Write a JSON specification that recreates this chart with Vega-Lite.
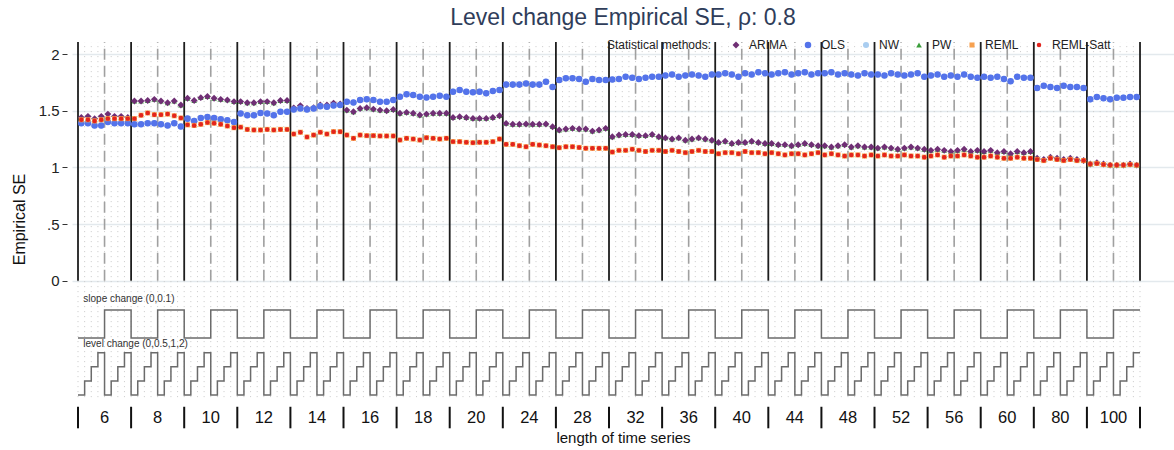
{
"$schema": "https://vega.github.io/schema/vega-lite/v6.json",
"width": 1102, "height": 388,
"autosize": {"type": "none"},
"padding": {"left": 72, "top": 42, "right": 0, "bottom": 20},
"background": "white",
"title": {"text": "Level change Empirical SE, ρ: 0.8", "fontSize": 23, "fontWeight": "normal", "color": "#2f3d5a", "font": "Liberation Sans", "anchor": "middle", "offset": 9},
"datasets": {
"main": [
{"x":1,"ARIMA":1.44,"PW":1.43,"OLS":1.39,"NW":1.39,"REML":1.42,"REML-Satt":1.42},
{"x":2,"ARIMA":1.45,"PW":1.43,"OLS":1.39,"NW":1.39,"REML":1.42,"REML-Satt":1.42},
{"x":3,"ARIMA":1.43,"PW":1.42,"OLS":1.37,"NW":1.37,"REML":1.41,"REML-Satt":1.41},
{"x":4,"ARIMA":1.45,"PW":1.43,"OLS":1.37,"NW":1.37,"REML":1.42,"REML-Satt":1.42},
{"x":5,"ARIMA":1.47,"PW":1.45,"OLS":1.40,"NW":1.40,"REML":1.43,"REML-Satt":1.43},
{"x":6,"ARIMA":1.45,"PW":1.44,"OLS":1.39,"NW":1.39,"REML":1.43,"REML-Satt":1.43},
{"x":7,"ARIMA":1.45,"PW":1.44,"OLS":1.39,"NW":1.39,"REML":1.43,"REML-Satt":1.43},
{"x":8,"ARIMA":1.44,"PW":1.43,"OLS":1.39,"NW":1.39,"REML":1.43,"REML-Satt":1.43},
{"x":9,"ARIMA":1.585,"PW":1.585,"OLS":1.38,"NW":1.38,"REML":1.43,"REML-Satt":1.43},
{"x":10,"ARIMA":1.585,"PW":1.585,"OLS":1.38,"NW":1.38,"REML":1.46,"REML-Satt":1.46},
{"x":11,"ARIMA":1.59,"PW":1.59,"OLS":1.39,"NW":1.39,"REML":1.48,"REML-Satt":1.48},
{"x":12,"ARIMA":1.60,"PW":1.60,"OLS":1.39,"NW":1.39,"REML":1.465,"REML-Satt":1.465},
{"x":13,"ARIMA":1.585,"PW":1.585,"OLS":1.38,"NW":1.38,"REML":1.465,"REML-Satt":1.465},
{"x":14,"ARIMA":1.57,"PW":1.57,"OLS":1.37,"NW":1.37,"REML":1.47,"REML-Satt":1.47},
{"x":15,"ARIMA":1.585,"PW":1.585,"OLS":1.39,"NW":1.39,"REML":1.455,"REML-Satt":1.455},
{"x":16,"ARIMA":1.55,"PW":1.55,"OLS":1.36,"NW":1.36,"REML":1.435,"REML-Satt":1.435},
{"x":17,"ARIMA":1.61,"PW":1.61,"OLS":1.43,"NW":1.43,"REML":1.375,"REML-Satt":1.375},
{"x":18,"ARIMA":1.59,"PW":1.59,"OLS":1.41,"NW":1.41,"REML":1.37,"REML-Satt":1.37},
{"x":19,"ARIMA":1.615,"PW":1.615,"OLS":1.435,"NW":1.435,"REML":1.38,"REML-Satt":1.38},
{"x":20,"ARIMA":1.625,"PW":1.625,"OLS":1.445,"NW":1.445,"REML":1.395,"REML-Satt":1.395},
{"x":21,"ARIMA":1.61,"PW":1.61,"OLS":1.435,"NW":1.435,"REML":1.39,"REML-Satt":1.39},
{"x":22,"ARIMA":1.60,"PW":1.60,"OLS":1.425,"NW":1.425,"REML":1.38,"REML-Satt":1.38},
{"x":23,"ARIMA":1.595,"PW":1.595,"OLS":1.415,"NW":1.415,"REML":1.365,"REML-Satt":1.365},
{"x":24,"ARIMA":1.58,"PW":1.58,"OLS":1.40,"NW":1.40,"REML":1.35,"REML-Satt":1.35},
{"x":25,"ARIMA":1.58,"PW":1.58,"OLS":1.475,"NW":1.475,"REML":1.355,"REML-Satt":1.355},
{"x":26,"ARIMA":1.57,"PW":1.57,"OLS":1.46,"NW":1.46,"REML":1.335,"REML-Satt":1.335},
{"x":27,"ARIMA":1.57,"PW":1.57,"OLS":1.46,"NW":1.46,"REML":1.33,"REML-Satt":1.33},
{"x":28,"ARIMA":1.58,"PW":1.58,"OLS":1.48,"NW":1.48,"REML":1.33,"REML-Satt":1.33},
{"x":29,"ARIMA":1.58,"PW":1.58,"OLS":1.475,"NW":1.475,"REML":1.335,"REML-Satt":1.335},
{"x":30,"ARIMA":1.57,"PW":1.57,"OLS":1.46,"NW":1.46,"REML":1.33,"REML-Satt":1.33},
{"x":31,"ARIMA":1.59,"PW":1.59,"OLS":1.49,"NW":1.49,"REML":1.335,"REML-Satt":1.335},
{"x":32,"ARIMA":1.59,"PW":1.59,"OLS":1.49,"NW":1.49,"REML":1.335,"REML-Satt":1.335},
{"x":33,"ARIMA":1.525,"PW":1.525,"OLS":1.51,"NW":1.51,"REML":1.294,"REML-Satt":1.294},
{"x":34,"ARIMA":1.545,"PW":1.545,"OLS":1.52,"NW":1.52,"REML":1.31,"REML-Satt":1.31},
{"x":35,"ARIMA":1.52,"PW":1.52,"OLS":1.51,"NW":1.51,"REML":1.268,"REML-Satt":1.268},
{"x":36,"ARIMA":1.527,"PW":1.527,"OLS":1.52,"NW":1.52,"REML":1.285,"REML-Satt":1.285},
{"x":37,"ARIMA":1.55,"PW":1.55,"OLS":1.54,"NW":1.54,"REML":1.31,"REML-Satt":1.31},
{"x":38,"ARIMA":1.55,"PW":1.55,"OLS":1.535,"NW":1.535,"REML":1.294,"REML-Satt":1.294},
{"x":39,"ARIMA":1.567,"PW":1.567,"OLS":1.545,"NW":1.545,"REML":1.315,"REML-Satt":1.315},
{"x":40,"ARIMA":1.56,"PW":1.56,"OLS":1.55,"NW":1.55,"REML":1.315,"REML-Satt":1.315},
{"x":41,"ARIMA":1.505,"PW":1.505,"OLS":1.579,"NW":1.579,"REML":1.285,"REML-Satt":1.285},
{"x":42,"ARIMA":1.49,"PW":1.49,"OLS":1.573,"NW":1.573,"REML":1.256,"REML-Satt":1.256},
{"x":43,"ARIMA":1.52,"PW":1.52,"OLS":1.594,"NW":1.594,"REML":1.285,"REML-Satt":1.285},
{"x":44,"ARIMA":1.526,"PW":1.526,"OLS":1.60,"NW":1.60,"REML":1.28,"REML-Satt":1.28},
{"x":45,"ARIMA":1.514,"PW":1.514,"OLS":1.594,"NW":1.594,"REML":1.28,"REML-Satt":1.28},
{"x":46,"ARIMA":1.505,"PW":1.505,"OLS":1.579,"NW":1.579,"REML":1.277,"REML-Satt":1.277},
{"x":47,"ARIMA":1.50,"PW":1.50,"OLS":1.579,"NW":1.579,"REML":1.277,"REML-Satt":1.277},
{"x":48,"ARIMA":1.51,"PW":1.51,"OLS":1.594,"NW":1.594,"REML":1.277,"REML-Satt":1.277},
{"x":49,"ARIMA":1.477,"PW":1.477,"OLS":1.623,"NW":1.623,"REML":1.241,"REML-Satt":1.241},
{"x":50,"ARIMA":1.485,"PW":1.485,"OLS":1.644,"NW":1.644,"REML":1.256,"REML-Satt":1.256},
{"x":51,"ARIMA":1.477,"PW":1.477,"OLS":1.638,"NW":1.638,"REML":1.25,"REML-Satt":1.25},
{"x":52,"ARIMA":1.462,"PW":1.462,"OLS":1.623,"NW":1.623,"REML":1.241,"REML-Satt":1.241},
{"x":53,"ARIMA":1.47,"PW":1.47,"OLS":1.617,"NW":1.617,"REML":1.262,"REML-Satt":1.262},
{"x":54,"ARIMA":1.477,"PW":1.477,"OLS":1.623,"NW":1.623,"REML":1.256,"REML-Satt":1.256},
{"x":55,"ARIMA":1.477,"PW":1.477,"OLS":1.632,"NW":1.632,"REML":1.25,"REML-Satt":1.25},
{"x":56,"ARIMA":1.477,"PW":1.477,"OLS":1.623,"NW":1.623,"REML":1.256,"REML-Satt":1.256},
{"x":57,"ARIMA":1.44,"PW":1.44,"OLS":1.668,"NW":1.668,"REML":1.227,"REML-Satt":1.227},
{"x":58,"ARIMA":1.447,"PW":1.447,"OLS":1.683,"NW":1.683,"REML":1.227,"REML-Satt":1.227},
{"x":59,"ARIMA":1.44,"PW":1.44,"OLS":1.668,"NW":1.668,"REML":1.221,"REML-Satt":1.221},
{"x":60,"ARIMA":1.432,"PW":1.432,"OLS":1.662,"NW":1.662,"REML":1.218,"REML-Satt":1.218},
{"x":61,"ARIMA":1.432,"PW":1.432,"OLS":1.668,"NW":1.668,"REML":1.221,"REML-Satt":1.221},
{"x":62,"ARIMA":1.432,"PW":1.432,"OLS":1.653,"NW":1.653,"REML":1.221,"REML-Satt":1.221},
{"x":63,"ARIMA":1.44,"PW":1.44,"OLS":1.674,"NW":1.674,"REML":1.227,"REML-Satt":1.227},
{"x":64,"ARIMA":1.456,"PW":1.456,"OLS":1.683,"NW":1.683,"REML":1.25,"REML-Satt":1.25},
{"x":65,"ARIMA":1.388,"PW":1.388,"OLS":1.73,"NW":1.73,"REML":1.203,"REML-Satt":1.203},
{"x":66,"ARIMA":1.38,"PW":1.38,"OLS":1.73,"NW":1.73,"REML":1.203,"REML-Satt":1.203},
{"x":67,"ARIMA":1.38,"PW":1.38,"OLS":1.73,"NW":1.73,"REML":1.191,"REML-Satt":1.191},
{"x":68,"ARIMA":1.383,"PW":1.383,"OLS":1.74,"NW":1.74,"REML":1.182,"REML-Satt":1.182},
{"x":69,"ARIMA":1.38,"PW":1.38,"OLS":1.73,"NW":1.73,"REML":1.203,"REML-Satt":1.203},
{"x":70,"ARIMA":1.38,"PW":1.38,"OLS":1.73,"NW":1.73,"REML":1.197,"REML-Satt":1.197},
{"x":71,"ARIMA":1.383,"PW":1.383,"OLS":1.756,"NW":1.756,"REML":1.191,"REML-Satt":1.191},
{"x":72,"ARIMA":1.359,"PW":1.359,"OLS":1.71,"NW":1.71,"REML":1.182,"REML-Satt":1.182},
{"x":73,"ARIMA":1.329,"PW":1.329,"OLS":1.771,"NW":1.771,"REML":1.174,"REML-Satt":1.174},
{"x":74,"ARIMA":1.338,"PW":1.338,"OLS":1.786,"NW":1.786,"REML":1.182,"REML-Satt":1.182},
{"x":75,"ARIMA":1.344,"PW":1.344,"OLS":1.786,"NW":1.786,"REML":1.182,"REML-Satt":1.182},
{"x":76,"ARIMA":1.338,"PW":1.338,"OLS":1.78,"NW":1.78,"REML":1.176,"REML-Satt":1.176},
{"x":77,"ARIMA":1.338,"PW":1.338,"OLS":1.756,"NW":1.756,"REML":1.168,"REML-Satt":1.168},
{"x":78,"ARIMA":1.32,"PW":1.32,"OLS":1.78,"NW":1.78,"REML":1.168,"REML-Satt":1.168},
{"x":79,"ARIMA":1.329,"PW":1.329,"OLS":1.771,"NW":1.771,"REML":1.168,"REML-Satt":1.168},
{"x":80,"ARIMA":1.344,"PW":1.344,"OLS":1.771,"NW":1.771,"REML":1.168,"REML-Satt":1.168},
{"x":81,"ARIMA":1.27,"PW":1.27,"OLS":1.775,"NW":1.775,"REML":1.135,"REML-Satt":1.135},
{"x":82,"ARIMA":1.285,"PW":1.285,"OLS":1.78,"NW":1.78,"REML":1.15,"REML-Satt":1.15},
{"x":83,"ARIMA":1.29,"PW":1.29,"OLS":1.80,"NW":1.80,"REML":1.15,"REML-Satt":1.15},
{"x":84,"ARIMA":1.29,"PW":1.29,"OLS":1.79,"NW":1.79,"REML":1.16,"REML-Satt":1.16},
{"x":85,"ARIMA":1.28,"PW":1.28,"OLS":1.78,"NW":1.78,"REML":1.15,"REML-Satt":1.15},
{"x":86,"ARIMA":1.28,"PW":1.28,"OLS":1.79,"NW":1.79,"REML":1.14,"REML-Satt":1.14},
{"x":87,"ARIMA":1.29,"PW":1.29,"OLS":1.80,"NW":1.80,"REML":1.15,"REML-Satt":1.15},
{"x":88,"ARIMA":1.27,"PW":1.27,"OLS":1.80,"NW":1.80,"REML":1.15,"REML-Satt":1.15},
{"x":89,"ARIMA":1.26,"PW":1.26,"OLS":1.81,"NW":1.81,"REML":1.14,"REML-Satt":1.14},
{"x":90,"ARIMA":1.25,"PW":1.25,"OLS":1.82,"NW":1.82,"REML":1.15,"REML-Satt":1.15},
{"x":91,"ARIMA":1.26,"PW":1.26,"OLS":1.80,"NW":1.80,"REML":1.14,"REML-Satt":1.14},
{"x":92,"ARIMA":1.24,"PW":1.24,"OLS":1.81,"NW":1.81,"REML":1.13,"REML-Satt":1.13},
{"x":93,"ARIMA":1.25,"PW":1.25,"OLS":1.82,"NW":1.82,"REML":1.14,"REML-Satt":1.14},
{"x":94,"ARIMA":1.26,"PW":1.26,"OLS":1.81,"NW":1.81,"REML":1.15,"REML-Satt":1.15},
{"x":95,"ARIMA":1.25,"PW":1.25,"OLS":1.80,"NW":1.80,"REML":1.14,"REML-Satt":1.14},
{"x":96,"ARIMA":1.24,"PW":1.24,"OLS":1.82,"NW":1.82,"REML":1.14,"REML-Satt":1.14},
{"x":97,"ARIMA":1.22,"PW":1.22,"OLS":1.82,"NW":1.82,"REML":1.12,"REML-Satt":1.12},
{"x":98,"ARIMA":1.23,"PW":1.23,"OLS":1.83,"NW":1.83,"REML":1.13,"REML-Satt":1.13},
{"x":99,"ARIMA":1.21,"PW":1.21,"OLS":1.82,"NW":1.82,"REML":1.13,"REML-Satt":1.13},
{"x":100,"ARIMA":1.22,"PW":1.22,"OLS":1.80,"NW":1.80,"REML":1.12,"REML-Satt":1.12},
{"x":101,"ARIMA":1.22,"PW":1.22,"OLS":1.83,"NW":1.83,"REML":1.14,"REML-Satt":1.14},
{"x":102,"ARIMA":1.23,"PW":1.23,"OLS":1.82,"NW":1.82,"REML":1.13,"REML-Satt":1.13},
{"x":103,"ARIMA":1.22,"PW":1.22,"OLS":1.84,"NW":1.84,"REML":1.13,"REML-Satt":1.13},
{"x":104,"ARIMA":1.21,"PW":1.21,"OLS":1.83,"NW":1.83,"REML":1.12,"REML-Satt":1.12},
{"x":105,"ARIMA":1.21,"PW":1.21,"OLS":1.82,"NW":1.82,"REML":1.13,"REML-Satt":1.13},
{"x":106,"ARIMA":1.20,"PW":1.20,"OLS":1.83,"NW":1.83,"REML":1.12,"REML-Satt":1.12},
{"x":107,"ARIMA":1.20,"PW":1.20,"OLS":1.84,"NW":1.84,"REML":1.11,"REML-Satt":1.11},
{"x":108,"ARIMA":1.19,"PW":1.19,"OLS":1.82,"NW":1.82,"REML":1.12,"REML-Satt":1.12},
{"x":109,"ARIMA":1.20,"PW":1.20,"OLS":1.83,"NW":1.83,"REML":1.12,"REML-Satt":1.12},
{"x":110,"ARIMA":1.21,"PW":1.21,"OLS":1.84,"NW":1.84,"REML":1.11,"REML-Satt":1.11},
{"x":111,"ARIMA":1.20,"PW":1.20,"OLS":1.82,"NW":1.82,"REML":1.12,"REML-Satt":1.12},
{"x":112,"ARIMA":1.19,"PW":1.19,"OLS":1.83,"NW":1.83,"REML":1.13,"REML-Satt":1.13},
{"x":113,"ARIMA":1.19,"PW":1.19,"OLS":1.83,"NW":1.83,"REML":1.11,"REML-Satt":1.11},
{"x":114,"ARIMA":1.18,"PW":1.18,"OLS":1.84,"NW":1.84,"REML":1.12,"REML-Satt":1.12},
{"x":115,"ARIMA":1.19,"PW":1.19,"OLS":1.82,"NW":1.82,"REML":1.11,"REML-Satt":1.11},
{"x":116,"ARIMA":1.20,"PW":1.20,"OLS":1.83,"NW":1.83,"REML":1.10,"REML-Satt":1.10},
{"x":117,"ARIMA":1.18,"PW":1.18,"OLS":1.82,"NW":1.82,"REML":1.11,"REML-Satt":1.11},
{"x":118,"ARIMA":1.19,"PW":1.19,"OLS":1.81,"NW":1.81,"REML":1.11,"REML-Satt":1.11},
{"x":119,"ARIMA":1.18,"PW":1.18,"OLS":1.83,"NW":1.83,"REML":1.10,"REML-Satt":1.10},
{"x":120,"ARIMA":1.18,"PW":1.18,"OLS":1.82,"NW":1.82,"REML":1.11,"REML-Satt":1.11},
{"x":121,"ARIMA":1.17,"PW":1.17,"OLS":1.82,"NW":1.82,"REML":1.10,"REML-Satt":1.10},
{"x":122,"ARIMA":1.18,"PW":1.18,"OLS":1.81,"NW":1.81,"REML":1.11,"REML-Satt":1.11},
{"x":123,"ARIMA":1.17,"PW":1.17,"OLS":1.83,"NW":1.83,"REML":1.10,"REML-Satt":1.10},
{"x":124,"ARIMA":1.16,"PW":1.16,"OLS":1.82,"NW":1.82,"REML":1.10,"REML-Satt":1.10},
{"x":125,"ARIMA":1.17,"PW":1.17,"OLS":1.81,"NW":1.81,"REML":1.11,"REML-Satt":1.11},
{"x":126,"ARIMA":1.18,"PW":1.18,"OLS":1.82,"NW":1.82,"REML":1.10,"REML-Satt":1.10},
{"x":127,"ARIMA":1.17,"PW":1.17,"OLS":1.83,"NW":1.83,"REML":1.10,"REML-Satt":1.10},
{"x":128,"ARIMA":1.16,"PW":1.16,"OLS":1.80,"NW":1.80,"REML":1.09,"REML-Satt":1.09},
{"x":129,"ARIMA":1.15,"PW":1.15,"OLS":1.81,"NW":1.81,"REML":1.10,"REML-Satt":1.10},
{"x":130,"ARIMA":1.16,"PW":1.16,"OLS":1.82,"NW":1.82,"REML":1.11,"REML-Satt":1.11},
{"x":131,"ARIMA":1.15,"PW":1.15,"OLS":1.80,"NW":1.80,"REML":1.09,"REML-Satt":1.09},
{"x":132,"ARIMA":1.14,"PW":1.14,"OLS":1.81,"NW":1.81,"REML":1.10,"REML-Satt":1.10},
{"x":133,"ARIMA":1.15,"PW":1.15,"OLS":1.80,"NW":1.80,"REML":1.10,"REML-Satt":1.10},
{"x":134,"ARIMA":1.16,"PW":1.16,"OLS":1.82,"NW":1.82,"REML":1.11,"REML-Satt":1.11},
{"x":135,"ARIMA":1.14,"PW":1.14,"OLS":1.80,"NW":1.80,"REML":1.10,"REML-Satt":1.10},
{"x":136,"ARIMA":1.15,"PW":1.15,"OLS":1.79,"NW":1.79,"REML":1.09,"REML-Satt":1.09},
{"x":137,"ARIMA":1.14,"PW":1.14,"OLS":1.80,"NW":1.80,"REML":1.09,"REML-Satt":1.09},
{"x":138,"ARIMA":1.15,"PW":1.15,"OLS":1.79,"NW":1.79,"REML":1.10,"REML-Satt":1.10},
{"x":139,"ARIMA":1.13,"PW":1.13,"OLS":1.80,"NW":1.80,"REML":1.09,"REML-Satt":1.09},
{"x":140,"ARIMA":1.14,"PW":1.14,"OLS":1.78,"NW":1.78,"REML":1.08,"REML-Satt":1.08},
{"x":141,"ARIMA":1.12,"PW":1.12,"OLS":1.76,"NW":1.76,"REML":1.08,"REML-Satt":1.08},
{"x":142,"ARIMA":1.14,"PW":1.14,"OLS":1.80,"NW":1.80,"REML":1.09,"REML-Satt":1.09},
{"x":143,"ARIMA":1.13,"PW":1.13,"OLS":1.79,"NW":1.79,"REML":1.08,"REML-Satt":1.08},
{"x":144,"ARIMA":1.14,"PW":1.14,"OLS":1.79,"NW":1.79,"REML":1.08,"REML-Satt":1.08},
{"x":145,"ARIMA":1.08,"PW":1.08,"OLS":1.70,"NW":1.70,"REML":1.07,"REML-Satt":1.07},
{"x":146,"ARIMA":1.07,"PW":1.07,"OLS":1.72,"NW":1.72,"REML":1.06,"REML-Satt":1.06},
{"x":147,"ARIMA":1.09,"PW":1.09,"OLS":1.71,"NW":1.71,"REML":1.08,"REML-Satt":1.08},
{"x":148,"ARIMA":1.08,"PW":1.08,"OLS":1.70,"NW":1.70,"REML":1.07,"REML-Satt":1.07},
{"x":149,"ARIMA":1.07,"PW":1.07,"OLS":1.72,"NW":1.72,"REML":1.06,"REML-Satt":1.06},
{"x":150,"ARIMA":1.08,"PW":1.08,"OLS":1.71,"NW":1.71,"REML":1.07,"REML-Satt":1.07},
{"x":151,"ARIMA":1.07,"PW":1.07,"OLS":1.71,"NW":1.71,"REML":1.06,"REML-Satt":1.06},
{"x":152,"ARIMA":1.06,"PW":1.06,"OLS":1.70,"NW":1.70,"REML":1.06,"REML-Satt":1.06},
{"x":153,"ARIMA":1.03,"PW":1.03,"OLS":1.60,"NW":1.60,"REML":1.03,"REML-Satt":1.03},
{"x":154,"ARIMA":1.04,"PW":1.04,"OLS":1.62,"NW":1.62,"REML":1.035,"REML-Satt":1.035},
{"x":155,"ARIMA":1.03,"PW":1.03,"OLS":1.61,"NW":1.61,"REML":1.025,"REML-Satt":1.025},
{"x":156,"ARIMA":1.02,"PW":1.02,"OLS":1.60,"NW":1.60,"REML":1.02,"REML-Satt":1.02},
{"x":157,"ARIMA":1.02,"PW":1.02,"OLS":1.615,"NW":1.615,"REML":1.02,"REML-Satt":1.02},
{"x":158,"ARIMA":1.02,"PW":1.02,"OLS":1.615,"NW":1.615,"REML":1.02,"REML-Satt":1.02},
{"x":159,"ARIMA":1.03,"PW":1.03,"OLS":1.62,"NW":1.62,"REML":1.025,"REML-Satt":1.025},
{"x":160,"ARIMA":1.02,"PW":1.02,"OLS":1.62,"NW":1.62,"REML":1.02,"REML-Satt":1.02}
],
"steps": [
{"x":0.5,"slope":0,"level":0},{"x":1.5,"slope":0,"level":0.5},{"x":2.5,"slope":0,"level":1},{"x":3.5,"slope":0,"level":2},{"x":4.5,"slope":0.1,"level":0},{"x":5.5,"slope":0.1,"level":0.5},{"x":6.5,"slope":0.1,"level":1},{"x":7.5,"slope":0.1,"level":2},
{"x":8.5,"slope":0,"level":0},{"x":9.5,"slope":0,"level":0.5},{"x":10.5,"slope":0,"level":1},{"x":11.5,"slope":0,"level":2},{"x":12.5,"slope":0.1,"level":0},{"x":13.5,"slope":0.1,"level":0.5},{"x":14.5,"slope":0.1,"level":1},{"x":15.5,"slope":0.1,"level":2},
{"x":16.5,"slope":0,"level":0},{"x":17.5,"slope":0,"level":0.5},{"x":18.5,"slope":0,"level":1},{"x":19.5,"slope":0,"level":2},{"x":20.5,"slope":0.1,"level":0},{"x":21.5,"slope":0.1,"level":0.5},{"x":22.5,"slope":0.1,"level":1},{"x":23.5,"slope":0.1,"level":2},
{"x":24.5,"slope":0,"level":0},{"x":25.5,"slope":0,"level":0.5},{"x":26.5,"slope":0,"level":1},{"x":27.5,"slope":0,"level":2},{"x":28.5,"slope":0.1,"level":0},{"x":29.5,"slope":0.1,"level":0.5},{"x":30.5,"slope":0.1,"level":1},{"x":31.5,"slope":0.1,"level":2},
{"x":32.5,"slope":0,"level":0},{"x":33.5,"slope":0,"level":0.5},{"x":34.5,"slope":0,"level":1},{"x":35.5,"slope":0,"level":2},{"x":36.5,"slope":0.1,"level":0},{"x":37.5,"slope":0.1,"level":0.5},{"x":38.5,"slope":0.1,"level":1},{"x":39.5,"slope":0.1,"level":2},
{"x":40.5,"slope":0,"level":0},{"x":41.5,"slope":0,"level":0.5},{"x":42.5,"slope":0,"level":1},{"x":43.5,"slope":0,"level":2},{"x":44.5,"slope":0.1,"level":0},{"x":45.5,"slope":0.1,"level":0.5},{"x":46.5,"slope":0.1,"level":1},{"x":47.5,"slope":0.1,"level":2},
{"x":48.5,"slope":0,"level":0},{"x":49.5,"slope":0,"level":0.5},{"x":50.5,"slope":0,"level":1},{"x":51.5,"slope":0,"level":2},{"x":52.5,"slope":0.1,"level":0},{"x":53.5,"slope":0.1,"level":0.5},{"x":54.5,"slope":0.1,"level":1},{"x":55.5,"slope":0.1,"level":2},
{"x":56.5,"slope":0,"level":0},{"x":57.5,"slope":0,"level":0.5},{"x":58.5,"slope":0,"level":1},{"x":59.5,"slope":0,"level":2},{"x":60.5,"slope":0.1,"level":0},{"x":61.5,"slope":0.1,"level":0.5},{"x":62.5,"slope":0.1,"level":1},{"x":63.5,"slope":0.1,"level":2},
{"x":64.5,"slope":0,"level":0},{"x":65.5,"slope":0,"level":0.5},{"x":66.5,"slope":0,"level":1},{"x":67.5,"slope":0,"level":2},{"x":68.5,"slope":0.1,"level":0},{"x":69.5,"slope":0.1,"level":0.5},{"x":70.5,"slope":0.1,"level":1},{"x":71.5,"slope":0.1,"level":2},
{"x":72.5,"slope":0,"level":0},{"x":73.5,"slope":0,"level":0.5},{"x":74.5,"slope":0,"level":1},{"x":75.5,"slope":0,"level":2},{"x":76.5,"slope":0.1,"level":0},{"x":77.5,"slope":0.1,"level":0.5},{"x":78.5,"slope":0.1,"level":1},{"x":79.5,"slope":0.1,"level":2},
{"x":80.5,"slope":0,"level":0},{"x":81.5,"slope":0,"level":0.5},{"x":82.5,"slope":0,"level":1},{"x":83.5,"slope":0,"level":2},{"x":84.5,"slope":0.1,"level":0},{"x":85.5,"slope":0.1,"level":0.5},{"x":86.5,"slope":0.1,"level":1},{"x":87.5,"slope":0.1,"level":2},
{"x":88.5,"slope":0,"level":0},{"x":89.5,"slope":0,"level":0.5},{"x":90.5,"slope":0,"level":1},{"x":91.5,"slope":0,"level":2},{"x":92.5,"slope":0.1,"level":0},{"x":93.5,"slope":0.1,"level":0.5},{"x":94.5,"slope":0.1,"level":1},{"x":95.5,"slope":0.1,"level":2},
{"x":96.5,"slope":0,"level":0},{"x":97.5,"slope":0,"level":0.5},{"x":98.5,"slope":0,"level":1},{"x":99.5,"slope":0,"level":2},{"x":100.5,"slope":0.1,"level":0},{"x":101.5,"slope":0.1,"level":0.5},{"x":102.5,"slope":0.1,"level":1},{"x":103.5,"slope":0.1,"level":2},
{"x":104.5,"slope":0,"level":0},{"x":105.5,"slope":0,"level":0.5},{"x":106.5,"slope":0,"level":1},{"x":107.5,"slope":0,"level":2},{"x":108.5,"slope":0.1,"level":0},{"x":109.5,"slope":0.1,"level":0.5},{"x":110.5,"slope":0.1,"level":1},{"x":111.5,"slope":0.1,"level":2},
{"x":112.5,"slope":0,"level":0},{"x":113.5,"slope":0,"level":0.5},{"x":114.5,"slope":0,"level":1},{"x":115.5,"slope":0,"level":2},{"x":116.5,"slope":0.1,"level":0},{"x":117.5,"slope":0.1,"level":0.5},{"x":118.5,"slope":0.1,"level":1},{"x":119.5,"slope":0.1,"level":2},
{"x":120.5,"slope":0,"level":0},{"x":121.5,"slope":0,"level":0.5},{"x":122.5,"slope":0,"level":1},{"x":123.5,"slope":0,"level":2},{"x":124.5,"slope":0.1,"level":0},{"x":125.5,"slope":0.1,"level":0.5},{"x":126.5,"slope":0.1,"level":1},{"x":127.5,"slope":0.1,"level":2},
{"x":128.5,"slope":0,"level":0},{"x":129.5,"slope":0,"level":0.5},{"x":130.5,"slope":0,"level":1},{"x":131.5,"slope":0,"level":2},{"x":132.5,"slope":0.1,"level":0},{"x":133.5,"slope":0.1,"level":0.5},{"x":134.5,"slope":0.1,"level":1},{"x":135.5,"slope":0.1,"level":2},
{"x":136.5,"slope":0,"level":0},{"x":137.5,"slope":0,"level":0.5},{"x":138.5,"slope":0,"level":1},{"x":139.5,"slope":0,"level":2},{"x":140.5,"slope":0.1,"level":0},{"x":141.5,"slope":0.1,"level":0.5},{"x":142.5,"slope":0.1,"level":1},{"x":143.5,"slope":0.1,"level":2},
{"x":144.5,"slope":0,"level":0},{"x":145.5,"slope":0,"level":0.5},{"x":146.5,"slope":0,"level":1},{"x":147.5,"slope":0,"level":2},{"x":148.5,"slope":0.1,"level":0},{"x":149.5,"slope":0.1,"level":0.5},{"x":150.5,"slope":0.1,"level":1},{"x":151.5,"slope":0.1,"level":2},
{"x":152.5,"slope":0,"level":0},{"x":153.5,"slope":0,"level":0.5},{"x":154.5,"slope":0,"level":1},{"x":155.5,"slope":0,"level":2},{"x":156.5,"slope":0.1,"level":0},{"x":157.5,"slope":0.1,"level":0.5},{"x":158.5,"slope":0.1,"level":1},{"x":159.5,"slope":0.1,"level":2},
{"x":160.5,"slope":0.1,"level":2}
],
"groups": [
{"x":4.5,"n":"6"},{"x":12.5,"n":"8"},{"x":20.5,"n":"10"},{"x":28.5,"n":"12"},{"x":36.5,"n":"14"},{"x":44.5,"n":"16"},{"x":52.5,"n":"18"},{"x":60.5,"n":"20"},{"x":68.5,"n":"24"},{"x":76.5,"n":"28"},
{"x":84.5,"n":"32"},{"x":92.5,"n":"36"},{"x":100.5,"n":"40"},{"x":108.5,"n":"44"},{"x":116.5,"n":"48"},{"x":124.5,"n":"52"},{"x":132.5,"n":"56"},{"x":140.5,"n":"60"},{"x":148.5,"n":"80"},{"x":156.5,"n":"100"}
],
"edges": [
{"x":0.5},{"x":8.5},{"x":16.5},{"x":24.5},{"x":32.5},{"x":40.5},{"x":48.5},{"x":56.5},{"x":64.5},{"x":72.5},{"x":80.5},
{"x":88.5},{"x":96.5},{"x":104.5},{"x":112.5},{"x":120.5},{"x":128.5},{"x":136.5},{"x":144.5},{"x":152.5},{"x":160.5}
],
"notes": [
{"x":1.3,"t":"slope change (0,0.1)","part":"slope"},
{"x":1.3,"t":"level change (0,0.5,1,2)","part":"level"}
]
},
"encoding": {
"x": {"field": "x", "type": "quantitative",
"scale": {"domain": [-0.404, 165.62], "nice": false, "zero": false},
"axis": {"title": "length of time series", "labels": false, "ticks": false, "domain": false, "grid": false, "titleFontSize": 15, "titleFontWeight": "normal", "titleColor": "#111", "titlePadding": 0, "titleFont": "Liberation Sans"}}
},
"layer": [
{"layer": [
{"data": {"name": "steps"}, "mark": {"type": "rule", "color": "#c9c9c9", "strokeWidth": 1, "strokeDash": [1, 4]},
"encoding": {"y": {"datum": -1.027}, "y2": {"datum": 2.106}}},
{"data": {"name": "groups"}, "mark": {"type": "rule", "color": "#a0a0a0", "strokeWidth": 1.6, "strokeDash": [11, 6]},
"encoding": {"y": {"datum": 0}, "y2": {"datum": 2.106}}},
{"data": {"name": "edges"}, "mark": {"type": "rule", "color": "#1e1e1e", "strokeWidth": 1.8},
"encoding": {"y": {"datum": 0}, "y2": {"datum": 2.106}}},
{"data": {"values": [{}]}, "mark": {"type": "rule", "color": "#e8262a", "strokeWidth": 1.6},
"encoding": {"x": {"datum": 1}, "x2": {"datum": 160}, "y": {"datum": 0}}},
{"data": {"name": "main"},
"transform": [{"fold": ["PW", "ARIMA", "NW", "OLS", "REML", "REML-Satt"], "as": ["method", "se"]}],
"mark": {"type": "point", "filled": true, "opacity": 1},
"encoding": {
"y": {"field": "se", "type": "quantitative",
"scale": {"domain": [-1.317, 2.106], "nice": false, "zero": false},
"axis": {"title": "Empirical SE", "values": [0, 0.5, 1, 1.5, 2], "labelExpr": "datum.value == 0.5 ? '.5' : format(datum.value, '~g')", "labelFontSize": 15, "labelColor": "#222", "labelFont": "Liberation Sans", "tickSize": 5, "tickColor": "#333", "offset": 5, "domain": false, "grid": true, "gridColor": "#e3e9ed", "gridWidth": 1.5, "titleFontSize": 16, "titleFontWeight": "normal", "titleColor": "#111", "titleFont": "Liberation Sans", "titlePadding": 11, "titleY": 177, "labelPadding": 3}},
"color": {"field": "method", "type": "nominal", "title": "Statistical methods:",
"scale": {"domain": ["ARIMA", "OLS", "NW", "PW", "REML", "REML-Satt"], "range": ["#6f2f74", "#5473ea", "#a9cdf0", "#3a9e3a", "#f7a150", "#e3241d"]},
"legend": {"orient": "none", "legendX": 535, "legendY": -3, "direction": "horizontal", "titleOrient": "left", "titleFontSize": 12, "titleFontWeight": "normal", "titleColor": "#222", "titleFont": "Liberation Sans", "labelFont": "Liberation Sans", "labelFontSize": 12, "labelColor": "#222", "titlePadding": 18, "columnPadding": 14, "labelOffset": 7, "padding": 0,
"encode": {"symbols": {"update": {"size": {"signal": "indexof(['NW','REML-Satt'], datum.value) >= 0 ? 10 : 22"}}}}}},
"shape": {"field": "method", "type": "nominal", "title": "Statistical methods:",
"scale": {"domain": ["ARIMA", "OLS", "NW", "PW", "REML", "REML-Satt"], "range": ["diamond", "circle", "circle", "triangle-up", "square", "circle"]}},
"size": {"field": "method", "type": "nominal", "title": "Statistical methods:",
"scale": {"domain": ["ARIMA", "OLS", "NW", "PW", "REML", "REML-Satt"], "range": [48, 20, 40, 40, 42, 9]}}
}},
{"data": {"name": "groups"}, "mark": {"type": "text", "fontSize": 16.5, "color": "#111", "baseline": "middle", "align": "center", "font": "Liberation Sans"},
"encoding": {"y": {"datum": -1.207}, "text": {"field": "n"}}},
{"data": {"name": "edges"}, "mark": {"type": "rule", "color": "#111", "strokeWidth": 2},
"encoding": {"y": {"datum": -1.112}, "y2": {"datum": -1.302}}},
{"data": {"name": "notes"}, "transform": [{"filter": "datum.part == 'slope'"}],
"mark": {"type": "text", "fontSize": 10, "color": "#333", "align": "left", "baseline": "middle", "font": "Liberation Sans"},
"encoding": {"y": {"datum": -0.161}, "text": {"field": "t", "type": "nominal"}}},
{"data": {"name": "notes"}, "transform": [{"filter": "datum.part == 'level'"}],
"mark": {"type": "text", "fontSize": 10, "color": "#333", "align": "left", "baseline": "middle", "font": "Liberation Sans"},
"encoding": {"y": {"datum": -0.558}, "text": {"field": "t", "type": "nominal"}}}
]},
{"data": {"name": "steps"}, "mark": {"type": "line", "interpolate": "step-after", "color": "#6b6b6b", "strokeWidth": 1.5},
"encoding": {"y": {"field": "slope", "type": "quantitative", "scale": {"domain": [0, 0.1], "range": [296, 268], "nice": false, "zero": false}, "axis": null}, "order": {"field": "x", "type": "quantitative"}}},
{"data": {"name": "steps"}, "mark": {"type": "line", "interpolate": "step-after", "color": "#6b6b6b", "strokeWidth": 1.5},
"encoding": {"y": {"field": "level", "type": "ordinal", "scale": {"type": "point", "domain": [0, 0.5, 1, 2], "range": [353, 310.7], "padding": 0}, "axis": null}, "order": {"field": "x", "type": "quantitative"}}}
],
"resolve": {"scale": {"y": "independent"}},
"config": {"view": {"stroke": null}, "font": "Liberation Sans"}
}
